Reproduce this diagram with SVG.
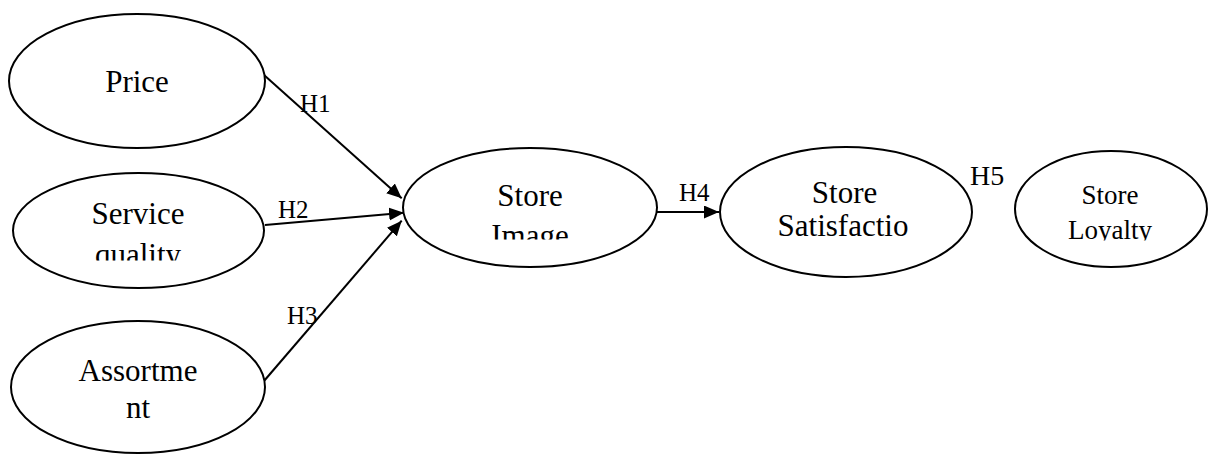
<svg xmlns="http://www.w3.org/2000/svg" width="1209" height="454" viewBox="0 0 1209 454">
<style>
.node ellipse{fill:#fff;stroke:#000;stroke-width:2}
.conn line{stroke:#000;stroke-width:2;fill:none}
</style>
<defs>
<marker id="arr" markerUnits="userSpaceOnUse" markerWidth="16" markerHeight="14" refX="15" refY="6.5" orient="auto">
<path d="M0,0 L15,6.5 L0,13 z" fill="#000"/>
</marker>
<clipPath id="cService"><rect x="0" y="150" width="300" height="110.5"/></clipPath>
<clipPath id="cImage"><rect x="400" y="140" width="260" height="99.5"/></clipPath>
<clipPath id="cLoyal"><rect x="1010" y="140" width="199" height="100.5"/></clipPath>
</defs>
<rect width="1209" height="454" fill="#fff"/>
<g id="connectors" class="conn">
<line x1="264" y1="75" x2="401.7" y2="198.3" marker-end="url(#arr)"/>
<line x1="265" y1="225" x2="404" y2="212.7" marker-end="url(#arr)"/>
<line x1="264" y1="381" x2="401.7" y2="220.7" marker-end="url(#arr)"/>
<line x1="657" y1="212" x2="719" y2="212" marker-end="url(#arr)"/>
</g>
<g id="labels" font-family="Liberation Serif" font-size="25" fill="#000">
<text x="300" y="112">H1</text>
<text x="278" y="218">H2</text>
<text x="287" y="324">H3</text>
<text x="679" y="201">H4</text>
<text x="970" y="185" font-size="28">H5</text>
</g>
<g id="price" class="node" font-family="Liberation Serif" font-size="31" text-anchor="middle">
<ellipse cx="137" cy="81" rx="128" ry="67"/>
<text x="137" y="92">Price</text>
</g>
<g id="service" class="node" font-family="Liberation Serif" font-size="31" text-anchor="middle">
<ellipse cx="138.5" cy="230.5" rx="125.5" ry="57.5"/>
<text x="138" y="224">Service</text>
<text x="138" y="265" clip-path="url(#cService)">quality</text>
</g>
<g id="assortment" class="node" font-family="Liberation Serif" font-size="31" text-anchor="middle">
<ellipse cx="138" cy="387" rx="127" ry="66"/>
<text x="138" y="381">Assortme</text>
<text x="138" y="418">nt</text>
</g>
<g id="storeimage" class="node" font-family="Liberation Serif" font-size="31" text-anchor="middle">
<ellipse cx="530" cy="207.5" rx="127" ry="59.5"/>
<text x="530" y="206">Store</text>
<text x="530" y="245.5" clip-path="url(#cImage)">Image</text>
</g>
<g id="satisfaction" class="node" font-family="Liberation Serif" font-size="31" text-anchor="middle">
<ellipse cx="846" cy="212" rx="126" ry="65"/>
<text x="844.5" y="203">Store</text>
<text x="843" y="236">Satisfactio</text>
</g>
<g id="loyalty" class="node" font-family="Liberation Serif" font-size="27" text-anchor="middle">
<ellipse cx="1111" cy="209" rx="96" ry="58"/>
<text x="1110" y="204">Store</text>
<text x="1110" y="239" clip-path="url(#cLoyal)">Loyalty</text>
</g>
</svg>
